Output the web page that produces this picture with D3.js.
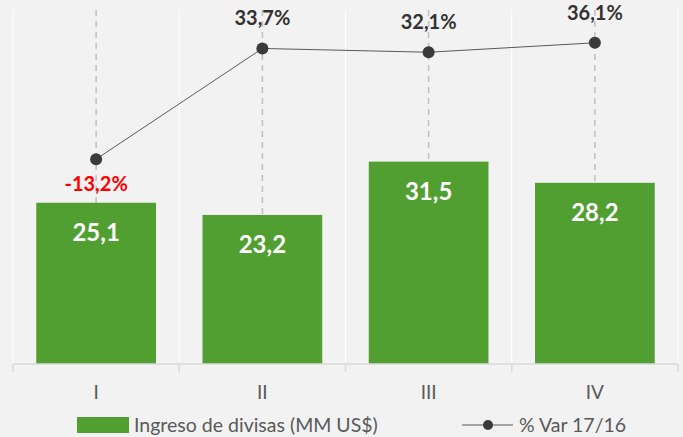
<!DOCTYPE html>
<html>
<head>
<meta charset="utf-8">
<script src="https://cdn.jsdelivr.net/npm/d3@7"></script>
<style>
  body { margin: 0; background: #f2f2f2; }
  svg { display: block; font-family: Lato, "Open Sans", sans-serif; }
</style>
</head>
<body>
<div id="chart"></div>
<script>
(function () {

  /***** Data *****/
  var quarters = ["I", "II", "III", "IV"]
  var ingreso = [25.1, 23.2, 31.5, 28.2]
  var variacion = [-13.2, 33.7, 32.1, 36.1]
  var seriesNames = ["Ingreso de divisas (MM US$)", "% Var 17/16"]

  /***** Configuration *****/
  var W = 683, H = 437
  var margin = { top: 10, right: 5, bottom: 73, left: 13 }
  var width = W - margin.left - margin.right
  var height = H - margin.top - margin.bottom

  var svg = d3.select("#chart").append("svg")
      .attr("width", W).attr("height", H)

  svg.append("rect").attr("width", W).attr("height", H).attr("fill", "#f2f2f2")

  var g = svg.append("g")
      .attr("transform", "translate(" + margin.left + "," + margin.top + ")")

  var x = d3.scaleBand().domain(quarters).range([0, width]).paddingInner(0).paddingOuter(0)
  var y = d3.scaleLinear().domain([0, 55.1]).range([height, 0])
  var y2 = d3.scaleLinear().domain([-100, 50]).range([height, 0])

  var barW = x.bandwidth() * 0.72

  // white separators at category bounds
  g.selectAll(".sep").data(d3.range(quarters.length + 1)).enter().append("line")
      .attr("x1", d => d * x.bandwidth()).attr("x2", d => d * x.bandwidth())
      .attr("y1", 0).attr("y2", height)
      .attr("stroke", "#ffffff").attr("stroke-width", 1)

  // dashed gray lines at category centres
  g.selectAll(".drop").data(quarters).enter().append("line")
      .attr("x1", d => x(d) + x.bandwidth() / 2).attr("x2", d => x(d) + x.bandwidth() / 2)
      .attr("y1", 0).attr("y2", height)
      .attr("stroke", "#bfbfbf").attr("stroke-width", 1.5)
      .attr("stroke-dasharray", "6,5")

  // bars
  g.selectAll(".bar").data(quarters).enter().append("rect")
      .attr("x", d => x(d) + (x.bandwidth() - barW) / 2)
      .attr("y", (d, i) => y(ingreso[i]))
      .attr("width", barW)
      .attr("height", (d, i) => height - y(ingreso[i]))
      .attr("fill", "#519e31")

  g.selectAll(".barlbl").data(quarters).enter().append("text")
      .attr("x", d => x(d) + x.bandwidth() / 2)
      .attr("y", (d, i) => y(ingreso[i]) + 38)
      .attr("text-anchor", "middle")
      .attr("fill", "#ffffff").attr("font-weight", "bold").attr("font-size", 24)
      .text((d, i) => d3.format(".1f")(ingreso[i]).replace(".", ","))

  // x axis
  var xAxis = g.append("g").attr("transform", "translate(0," + height + ")")
  xAxis.append("line").attr("x1", 0).attr("x2", width)
      .attr("stroke", "#d9d9d9").attr("stroke-width", 1.5)
  xAxis.selectAll(".tk").data(d3.range(quarters.length + 1)).enter().append("line")
      .attr("x1", d => d * x.bandwidth()).attr("x2", d => d * x.bandwidth())
      .attr("y1", 0).attr("y2", 8)
      .attr("stroke", "#d9d9d9").attr("stroke-width", 1.5)
  xAxis.selectAll(".cat").data(quarters).enter().append("text")
      .attr("x", d => x(d) + x.bandwidth() / 2)
      .attr("y", 35)
      .attr("text-anchor", "middle")
      .attr("fill", "#595959").attr("font-size", 19)
      .text(d => d)

  // line series
  var line = d3.line()
      .x((d, i) => x(quarters[i]) + x.bandwidth() / 2)
      .y(d => y2(d))
  g.append("path").datum(variacion)
      .attr("d", line).attr("fill", "none")
      .attr("stroke", "#595959").attr("stroke-width", 1)

  g.selectAll(".pt").data(variacion).enter().append("circle")
      .attr("cx", (d, i) => x(quarters[i]) + x.bandwidth() / 2)
      .attr("cy", d => y2(d))
      .attr("r", 6).attr("fill", "#3a3a3a")

  g.selectAll(".ptlbl").data(variacion).enter().append("text")
      .attr("x", (d, i) => x(quarters[i]) + x.bandwidth() / 2)
      .attr("y", d => d < 0 ? y2(d) + 32 : y2(d) - 23)
      .attr("text-anchor", "middle")
      .attr("font-weight", "bold").attr("font-size", 20)
      .attr("fill", d => d < 0 ? "#ff0000" : "#333333")
      .text(d => d3.format(".1f")(d).replace(".", ",").replace("−", "-") + "%")

  // legend
  var leg = svg.append("g")
  leg.append("rect").attr("x", 77).attr("y", 417).attr("width", 52).attr("height", 16)
      .attr("fill", "#519e31")
  leg.append("text").attr("x", 134).attr("y", 432)
      .attr("fill", "#595959").attr("font-size", 19.5)
      .text(seriesNames[0])
  leg.append("line").attr("x1", 462).attr("x2", 513).attr("y1", 425).attr("y2", 425)
      .attr("stroke", "#595959").attr("stroke-width", 1)
  leg.append("circle").attr("cx", 488).attr("cy", 425).attr("r", 5).attr("fill", "#3a3a3a")
  leg.append("text").attr("x", 519).attr("y", 432)
      .attr("fill", "#595959").attr("font-size", 19.5)
      .text(seriesNames[1])

})()
</script>
</body>
</html>
